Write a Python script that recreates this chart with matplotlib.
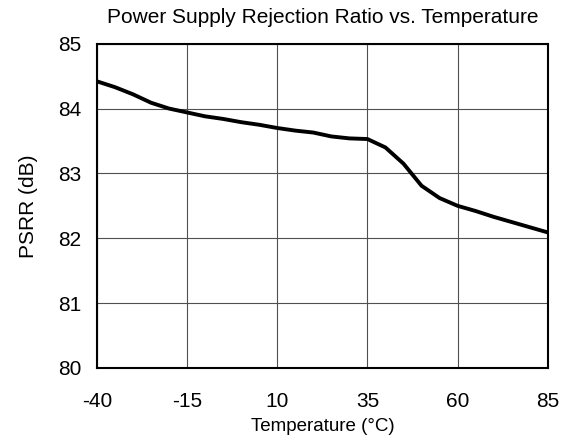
import matplotlib
matplotlib.use("Agg")
import matplotlib.pyplot as plt

plt.rcParams['font.family'] = ['Liberation Sans', 'DejaVu Sans']

temperature = [-40, -35, -30, -25, -20, -15, -10, -5, 0, 5, 10, 15, 20, 25, 30, 35,
               40, 45, 50, 55, 60, 65, 70, 75, 80, 85]
psrr = [84.42, 84.33, 84.22, 84.09, 84.00, 83.94, 83.88, 83.84, 83.79, 83.75, 83.70,
        83.66, 83.63, 83.57, 83.54, 83.53, 83.40, 83.15, 82.81, 82.62, 82.50, 82.42,
        82.33, 82.25, 82.17, 82.09]

x_ticks = [-40, -15, 10, 35, 60, 85]
y_ticks = [80, 81, 82, 83, 84, 85]

title = "Power Supply Rejection Ratio vs. Temperature"
x_label = "Temperature (°C)"
y_label = "PSRR (dB)"

fig = plt.figure(figsize=(5.70, 4.46), dpi=100)
ax = fig.add_axes([0.170, 0.175, 0.791, 0.727])

ax.plot(temperature, psrr, color='black', lw=2.8, solid_joinstyle='round', zorder=3)

ax.set_xlim(-40, 85)
ax.set_ylim(80, 85)
ax.set_xticks(x_ticks)
ax.set_yticks(y_ticks)
ax.set_xticklabels([str(t) for t in x_ticks])
ax.set_yticklabels([str(t) for t in y_ticks])
ax.tick_params(axis='x', length=0, pad=17, labelsize=15)
ax.tick_params(axis='y', length=0, pad=11, labelsize=15)

ax.grid(True, color='#505050', lw=0.8)
ax.set_axisbelow(True)
for s in ax.spines.values():
    s.set_linewidth(1.5)
    s.set_color('black')

ax.set_xlabel(x_label, fontsize=13.5)
ax.xaxis.set_label_coords(0.5, -0.155)
ax.set_ylabel(y_label, fontsize=15)
ax.yaxis.set_label_coords(-0.13, 0.5)
ax.set_title(title, fontsize=15, pad=15)

fig.savefig("out.png", dpi=100)
